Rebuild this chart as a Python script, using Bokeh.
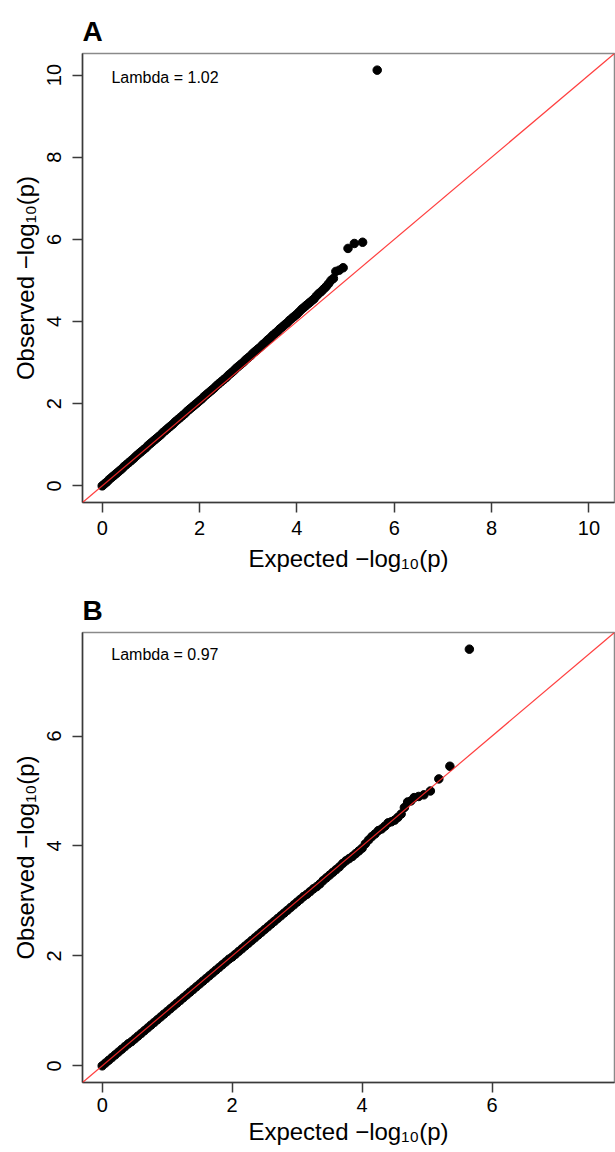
from bokeh.plotting import figure
from bokeh.models import Slope, Label, FixedTicker
from bokeh.layouts import column
from bokeh.embed import file_html
from bokeh.resources import INLINE

FONT = "Liberation Sans"

# Expected -log10(p) (shared by both panels)
expected = [
    0.00, 0.05, 0.10, 0.15, 0.20, 0.25, 0.30, 0.35, 0.40, 0.45,
    0.50, 0.55, 0.60, 0.65, 0.70, 0.75, 0.80, 0.85, 0.90, 0.95,
    1.00, 1.05, 1.10, 1.15, 1.20, 1.25, 1.30, 1.35, 1.40, 1.45,
    1.50, 1.55, 1.60, 1.65, 1.70, 1.75, 1.80, 1.85, 1.90, 1.95,
    2.00, 2.05, 2.10, 2.15, 2.20, 2.25, 2.30, 2.35, 2.40, 2.45,
    2.50, 2.55, 2.60, 2.65, 2.70, 2.75, 2.80, 2.85, 2.90, 2.95,
    3.00, 3.05, 3.10, 3.15, 3.20, 3.25, 3.30, 3.35, 3.40, 3.45,
    3.50, 3.55, 3.60, 3.65, 3.70, 3.75, 3.80, 3.85, 3.90, 3.95,
    4.00, 4.05, 4.10, 4.15, 4.20, 4.25, 4.30, 4.35, 4.40, 4.45,
    4.50, 4.55, 4.60,
    4.65, 4.70, 4.75, 4.80, 4.87, 4.95, 5.05, 5.18, 5.35, 5.65,
]

# Observed -log10(p), panel A
observed_A = [
    0.00, 0.05, 0.10, 0.16, 0.21, 0.26, 0.31, 0.36, 0.41, 0.47,
    0.52, 0.57, 0.62, 0.67, 0.73, 0.78, 0.83, 0.88, 0.93, 0.99,
    1.04, 1.09, 1.14, 1.19, 1.24, 1.30, 1.35, 1.40, 1.45, 1.50,
    1.56, 1.61, 1.66, 1.71, 1.76, 1.82, 1.87, 1.92, 1.97, 2.02,
    2.07, 2.12, 2.18, 2.23, 2.28, 2.33, 2.38, 2.44, 2.49, 2.54,
    2.59, 2.64, 2.70, 2.75, 2.80, 2.86, 2.91, 2.96, 3.01, 3.07,
    3.12, 3.17, 3.23, 3.28, 3.33, 3.38, 3.44, 3.49, 3.55, 3.60,
    3.66, 3.71, 3.76, 3.82, 3.87, 3.92, 3.97, 4.03, 4.08, 4.13,
    4.18, 4.24, 4.30, 4.35, 4.40, 4.45, 4.50, 4.55, 4.62, 4.68,
    4.73, 4.79, 4.85,
    4.92, 5.00, 5.05, 5.22, 5.25, 5.31, 5.78, 5.90, 5.93, 10.12,
]

# Observed -log10(p), panel B
observed_B = [
    0.00, 0.05, 0.10, 0.15, 0.20, 0.25, 0.30, 0.35, 0.40, 0.44,
    0.49, 0.54, 0.59, 0.64, 0.69, 0.74, 0.79, 0.84, 0.89, 0.94,
    0.99, 1.04, 1.09, 1.14, 1.19, 1.24, 1.29, 1.34, 1.39, 1.44,
    1.49, 1.54, 1.59, 1.64, 1.69, 1.74, 1.79, 1.84, 1.89, 1.94,
    1.98, 2.03, 2.08, 2.13, 2.18, 2.23, 2.28, 2.33, 2.38, 2.43,
    2.48, 2.53, 2.58, 2.63, 2.68, 2.73, 2.78, 2.83, 2.88, 2.93,
    2.98, 3.03, 3.08, 3.12, 3.17, 3.22, 3.26, 3.31, 3.37, 3.42,
    3.47, 3.52, 3.57, 3.62, 3.68, 3.73, 3.77, 3.81, 3.86, 3.91,
    3.96, 4.04, 4.11, 4.17, 4.22, 4.28, 4.31, 4.36, 4.42, 4.44,
    4.47, 4.52, 4.58,
    4.70, 4.80, 4.82, 4.88, 4.90, 4.93, 5.00, 5.22, 5.45, 7.58,
]

ticks_A = [0, 2, 4, 6, 8, 10]
ticks_B = [0, 2, 4, 6]
panel_A = "A"
panel_B = "B"
lambda_A = "Lambda = 1.02"
lambda_B = "Lambda = 0.97"
xlabel = "Expected \u2212log\u2081\u2080(p)"
ylabel = "Observed \u2212log\u2081\u2080(p)"


def make_panel(letter, obs, ticks, lam_text, lam_xy, fh, top, bottom,
               x_std, x_lab_std, x_tick_out):
    m = max(obs)
    lo, hi = -0.04 * m, 1.04 * m
    p = figure(frame_width=532, frame_height=fh,
               x_range=(lo, hi), y_range=(lo, hi),
               output_backend="svg", toolbar_location=None,
               min_border_left=82, min_border_right=1,
               min_border_top=top, min_border_bottom=bottom,
               background_fill_color="white", border_fill_color="white")
    p.title.text = letter
    p.title.text_font = FONT
    p.title.text_font_size = "28px"
    p.title.text_font_style = "bold"
    p.title.text_color = "black"
    p.title.standoff = 14
    p.title.align = "left"

    p.xgrid.visible = False
    p.ygrid.visible = False
    p.outline_line_color = "#8a8a8a"
    p.outline_line_width = 1.5

    p.scatter(expected, obs, size=8.5, marker="circle",
              fill_color="black", line_color="black")
    p.add_layout(Slope(gradient=1, y_intercept=0, line_color="#ff2a2a",
                       line_width=1.2, line_alpha=0.9))

    p.add_layout(Label(x=lam_xy[0], y=lam_xy[1], text=lam_text,
                       text_font=FONT, text_font_size="16px",
                       text_baseline="middle", text_align="left",
                       text_color="black"))

    for ax in (p.xaxis[0], p.yaxis[0]):
        ax.ticker = FixedTicker(ticks=ticks)
        ax.major_tick_in = 0
        ax.minor_tick_out = 0
        ax.minor_tick_in = 0
        ax.axis_line_color = "#3a3a3a"
        ax.axis_line_width = 1.5
        ax.major_tick_line_color = "#3a3a3a"
        ax.major_tick_line_width = 1.5
        ax.major_label_text_font = FONT
        ax.major_label_text_font_size = "20px"
        ax.major_label_text_color = "black"
        ax.axis_label_text_font = FONT
        ax.axis_label_text_font_size = "24px"
        ax.axis_label_text_font_style = "normal"
        ax.axis_label_text_color = "black"

    p.xaxis.axis_label = xlabel
    p.xaxis.major_tick_out = x_tick_out
    p.xaxis.major_label_standoff = x_std
    p.xaxis.axis_label_standoff = x_lab_std

    p.yaxis.axis_label = ylabel
    p.yaxis.major_tick_out = 10
    p.yaxis.major_label_orientation = "vertical"
    p.yaxis.major_label_standoff = 11
    p.yaxis.axis_label_standoff = 6
    return p


pA = make_panel(panel_A, observed_A, ticks_A, lambda_A, (0.19, 9.94),
                449, 53, 76, 8, 7, 10)
pB = make_panel(panel_B, observed_B, ticks_B, lambda_B, (0.14, 7.48),
                450, 54, 68, 5, 3, 10)

layout = column(pA, pB)
open("out.html", "w").write(file_html(layout, INLINE))
